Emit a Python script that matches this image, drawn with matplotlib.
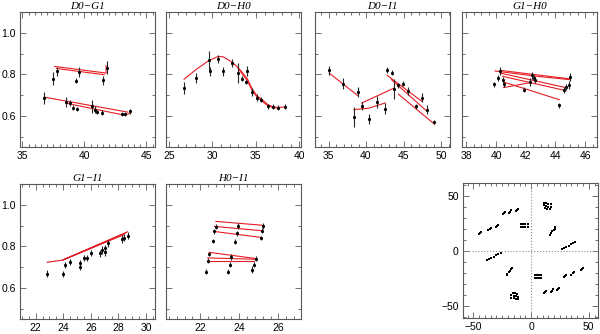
import numpy as np
import matplotlib
matplotlib.use("Agg")
import matplotlib.pyplot as plt
from matplotlib.ticker import MultipleLocator

# --- visibility data per baseline (x = spatial frequency, y = visibility) ---
d0g1_x = [37.47, 37.8, 39.35, 39.6, 41.5, 41.83, 36.75, 38.55, 38.87, 39.1, 39.4,
          40.65, 40.85, 41.05, 41.45, 43.06, 43.25, 43.66]
d0g1_y = [0.779, 0.814, 0.768, 0.811, 0.771, 0.832, 0.686, 0.667, 0.662, 0.640, 0.635,
          0.646, 0.630, 0.617, 0.616, 0.608, 0.608, 0.621]
d0g1_e = [0.032, 0.020, 0.012, 0.025, 0.022, 0.030, 0.030, 0.022, 0.015, 0.012, 0.010,
          0.030, 0.018, 0.010, 0.010, 0.010, 0.010, 0.012]
d0g1_model = [([37.6, 41.75, 41.75], [0.838, 0.806, 0.842]),
              ([37.75, 41.6], [0.828, 0.798]),
              ([36.75, 43.5], [0.690, 0.618]),
              ([38.6, 43.25, 43.66], [0.660, 0.603, 0.612])]

d0h0_x = [26.73, 28.08, 29.58, 29.77, 30.65, 31.27, 32.27, 32.96, 33.42, 33.85, 34.0,
          34.6, 35.15, 35.65, 36.42, 37.0, 37.58, 38.35]
d0h0_y = [0.734, 0.782, 0.867, 0.814, 0.875, 0.814, 0.854, 0.806, 0.779, 0.763, 0.816,
          0.715, 0.688, 0.678, 0.646, 0.643, 0.640, 0.643]
d0h0_e = [0.030, 0.022, 0.045, 0.020, 0.020, 0.022, 0.020, 0.050, 0.012, 0.010, 0.025,
          0.018, 0.015, 0.012, 0.012, 0.012, 0.012, 0.012]
d0h0_model = [([26.73, 28.08, 29.58, 30.65, 31.27, 32.27, 32.96, 33.42, 34.0, 34.6,
                35.15, 35.65, 36.42, 37.0, 37.58, 38.35],
               [0.776, 0.822, 0.866, 0.886, 0.884, 0.858, 0.832, 0.810, 0.780, 0.728,
                0.696, 0.680, 0.653, 0.643, 0.640, 0.643]),
              ([32.96, 33.42, 34.0, 34.6, 35.15, 35.65, 36.42, 37.0, 37.58],
               [0.828, 0.802, 0.770, 0.720, 0.690, 0.672, 0.648, 0.640, 0.638])]

d0i1_x = [35.1, 36.87, 38.96, 38.38, 39.44, 40.38, 41.49, 42.56, 42.8, 43.4, 43.75,
          44.33, 44.95, 45.6, 46.64, 47.44, 48.07, 49.1]
d0i1_y = [0.819, 0.755, 0.714, 0.595, 0.646, 0.586, 0.667, 0.635, 0.822, 0.808, 0.731,
          0.747, 0.755, 0.720, 0.646, 0.688, 0.630, 0.570]
d0i1_e = [0.022, 0.028, 0.024, 0.050, 0.020, 0.025, 0.030, 0.025, 0.015, 0.012, 0.048,
          0.012, 0.012, 0.020, 0.012, 0.020, 0.020, 0.010]
d0i1_model = [([35.09, 38.96], [0.806, 0.696]),
              ([38.38, 40.38, 42.56], [0.630, 0.637, 0.662]),
              ([39.44, 43.76], [0.662, 0.734]),
              ([42.82, 47.44], [0.795, 0.670]),
              ([43.4, 48.07], [0.774, 0.624]),
              ([44.33, 49.13], [0.704, 0.560])]

g1h0_x = [39.86, 40.16, 40.27, 40.45, 40.5, 41.9, 42.27, 42.39, 42.55, 42.6, 44.25,
          44.6, 44.7, 44.93, 44.98]
g1h0_y = [0.752, 0.784, 0.816, 0.771, 0.752, 0.726, 0.763, 0.795, 0.784, 0.771, 0.651,
          0.726, 0.739, 0.747, 0.787]
g1h0_e = [0.012, 0.015, 0.020, 0.015, 0.012, 0.012, 0.018, 0.018, 0.015, 0.015, 0.012,
          0.015, 0.015, 0.020, 0.018]
g1h0_model = [([40.27, 44.98], [0.819, 0.778]),
              ([39.93, 42.55, 44.98], [0.816, 0.792, 0.774]),
              ([40.27, 44.7], [0.806, 0.736]),
              ([40.45, 44.6], [0.790, 0.723]),
              ([40.5, 42.3], [0.736, 0.760]),
              ([40.5, 44.25], [0.763, 0.678])]

g1i1_x = [22.84, 23.98, 24.1, 24.48, 25.25, 25.25, 25.54, 25.73, 25.98, 26.65, 26.82,
          27.0, 27.06, 27.25, 28.25, 28.43, 28.67]
g1i1_y = [0.669, 0.667, 0.710, 0.723, 0.718, 0.702, 0.742, 0.742, 0.766, 0.766, 0.782,
          0.790, 0.771, 0.814, 0.835, 0.842, 0.851]
g1i1_e = [0.015, 0.015, 0.015, 0.015, 0.015, 0.015, 0.015, 0.015, 0.015, 0.018, 0.018,
          0.018, 0.018, 0.015, 0.018, 0.018, 0.018]
g1i1_model = [([22.84, 23.98, 28.67], [0.723, 0.734, 0.870]),
              ([23.98, 28.5], [0.734, 0.864]),
              ([23.98, 28.4], [0.734, 0.856]),
              ([24.1, 27.3], [0.738, 0.828])]

h0i1_x = [22.29, 22.39, 22.46, 22.68, 22.73, 22.80, 23.41, 23.53, 23.58, 23.79, 23.87,
          23.96, 24.67, 24.77, 24.86, 25.10, 25.15, 25.23]
h0i1_y = [0.677, 0.731, 0.763, 0.827, 0.872, 0.894, 0.677, 0.712, 0.747, 0.821, 0.864,
          0.899, 0.688, 0.712, 0.739, 0.840, 0.875, 0.896]
h0i1_e = [0.012, 0.012, 0.012, 0.010, 0.012, 0.012, 0.012, 0.012, 0.015, 0.012, 0.012,
          0.015, 0.015, 0.012, 0.012, 0.012, 0.012, 0.015]
h0i1_model = [([22.80, 25.23], [0.920, 0.901]),
              ([22.73, 25.15], [0.896, 0.875]),
              ([22.68, 25.10], [0.872, 0.843]),
              ([22.46, 24.86], [0.771, 0.741]),
              ([22.39, 24.81], [0.744, 0.738]),
              ([22.39, 24.77], [0.728, 0.728])]

# --- uv coverage, one half-plane; the other half is (-u, -v) ---
u_half = [-24.5, -23.5, -22.5, -19.0, -18.2, -17.4, -13.2, -12.4, -11.6,
          -45.0, -44.0, -43.0, -37.0, -36.0, -35.0, -30.2, -29.4, -28.6,
          -9.0, -7.0, -5.0, -3.0, -9.0, -7.0, -5.0, -3.0,
          11.0, 13.0, 15.0, 17.0, 11.0, 13.0, 15.0, 17.0, 12.0, 14.0, 16.0,
          16.5, 17.5, 18.5, 19.5, 20.5, 21.0,
          26.5, 28.5, 30.5, 32.5, 34.5, 36.5, 38.2]
v_half = [33.5, 34.5, 35.5, 35.0, 36.0, 37.0, 36.5, 37.5, 38.5,
          15.5, 16.5, 17.5, 19.4, 20.4, 21.4, 21.5, 22.5, 23.5,
          24.5, 24.5, 24.5, 24.5, 22.0, 22.0, 22.0, 22.0,
          44.0, 43.5, 43.0, 42.5, 41.5, 41.0, 40.5, 40.0, 39.0, 38.5, 38.0,
          15.0, 16.5, 18.0, 19.3, 20.5, 21.5,
          1.5, 2.7, 3.9, 5.0, 6.2, 7.4, 8.4]

titles = ["D0\u2212G1", "D0\u2212H0", "D0\u2212I1", "G1\u2212H0", "G1\u2212I1", "H0\u2212I1"]
panels = [
    (d0g1_x, d0g1_y, d0g1_e, d0g1_model, 20, 12, (34.8, 45.7), 5, 0.5, True),
    (d0h0_x, d0h0_y, d0h0_e, d0h0_model, 166, 12, (24.65, 40.2), 5, 1, False),
    (d0i1_x, d0i1_y, d0i1_e, d0i1_model, 315, 12, (33.2, 51.2), 5, 1, False),
    (g1h0_x, g1h0_y, g1h0_e, g1h0_model, 462, 12, (37.7, 46.8), 2, 0.5, False),
    (g1i1_x, g1i1_y, g1i1_e, g1i1_model, 20, 184, (20.87, 30.65), 2, 0.5, True),
    (h0i1_x, h0i1_y, h0i1_e, h0i1_model, 166, 184, (20.25, 27.16), 2, 0.4, False),
]

W, H = 600, 334
fig = plt.figure(figsize=(W / 100, H / 100), dpi=100)
tick_font = "Liberation Sans"
axis_col = "0.35"


def make_ax(left, top, size=135):
    return fig.add_axes([left / W, 1 - (top + size) / H, size / W, size / H])


def style(ax):
    for s in ax.spines.values():
        s.set_color(axis_col)
        s.set_linewidth(0.8)
    ax.tick_params(which="both", direction="in", top=True, right=True,
                   color=axis_col, width=0.6, labelsize=7.5, pad=3)
    ax.tick_params(which="major", length=4)
    ax.tick_params(which="minor", length=2.5)
    for lab in ax.get_xticklabels() + ax.get_yticklabels():
        lab.set_fontfamily(tick_font)


for title, (x, y, e, models, left, top, xlim, xmaj, xmin, ylab) in zip(titles, panels):
    ax = make_ax(left, top)
    for mx, my in models:
        ax.plot(mx, my, color="#e51c23", lw=0.8, zorder=2)
    ax.errorbar(x, y, yerr=e, fmt="s", ms=1.1, color="black", ecolor="0.15",
                elinewidth=0.8, capsize=0, zorder=3)
    ax.set_xlim(*xlim)
    ax.set_ylim(0.45, 1.1)
    ax.xaxis.set_major_locator(MultipleLocator(xmaj))
    ax.xaxis.set_minor_locator(MultipleLocator(xmin))
    ax.yaxis.set_major_locator(MultipleLocator(0.2))
    ax.yaxis.set_minor_locator(MultipleLocator(0.1))
    if not ylab:
        ax.set_yticklabels([])
    ax.set_title(title, fontsize=8, family="Liberation Serif", style="italic", pad=2)
    style(ax)

# uv coverage panel
ax = make_ax(463, 183, size=135)
u = np.concatenate([u_half, -np.array(u_half)])
v = np.concatenate([v_half, -np.array(v_half)])
ax.axhline(0, color="0.55", ls=":", lw=0.8)
ax.axvline(0, color="0.55", ls=":", lw=0.8)
ax.plot(u, v, "s", ms=1.7, color="black", mew=0)
ax.set_xlim(-59, 58)
ax.set_ylim(-61, 62)
ax.xaxis.set_major_locator(MultipleLocator(50))
ax.xaxis.set_minor_locator(MultipleLocator(5))
ax.yaxis.set_major_locator(MultipleLocator(50))
ax.yaxis.set_minor_locator(MultipleLocator(10))
style(ax)

fig.savefig("out.png", dpi=100)
